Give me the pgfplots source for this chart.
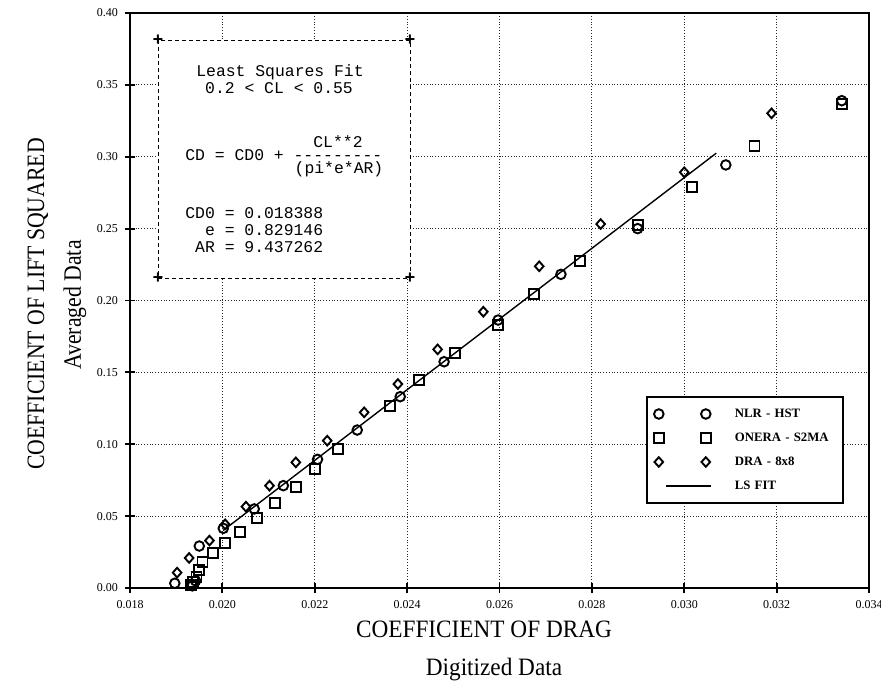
\documentclass[border=0pt]{standalone}
\usepackage{fontspec}
\setmainfont{Liberation Serif}
\setmonofont{Liberation Mono}
\usepackage{pgfplots}
\pgfplotsset{compat=1.18}

% legend images: each data set shows its symbol twice, the fit a short line
\pgfplotsset{
  twomarks/.style={legend image code/.code={\path[draw=none, fill=none] (-3pt,-3pt) rectangle (36pt,3pt);
    \draw[##1] plot coordinates {(0pt,0pt) (23.5pt,0pt)};}},
  fitline/.style={legend image code/.code={\path[draw=none, fill=none] (-3pt,-3pt) rectangle (36pt,3pt);
    \draw[##1] (3.5pt,0pt) -- (26pt,0pt);}},
}

% NLR - HST
\pgfplotstableread{
cd       cl2
0.01897  0.0033
0.01935  0.0015
0.01942  0.0050
0.01950  0.0292
0.02002  0.0415
0.02069  0.0550
0.02132  0.0712
0.02206  0.0895
0.02292  0.1099
0.02385  0.1331
0.02480  0.1574
0.02597  0.1864
0.02733  0.2182
0.02899  0.2500
0.03090  0.2943
0.03341  0.3390
}\nlr

% ONERA - S2MA
\pgfplotstableread{
cd       cl2
0.01933  0.0021
0.01937  0.0044
0.01944  0.0079
0.01950  0.0125
0.01957  0.0183
0.01979  0.0241
0.02006  0.0311
0.02038  0.0392
0.02074  0.0487
0.02114  0.0591
0.02159  0.0703
0.02201  0.0828
0.02250  0.0965
0.02363  0.1268
0.02425  0.1447
0.02504  0.1637
0.02597  0.1830
0.02675  0.2043
0.02774  0.2277
0.02899  0.2525
0.03016  0.2787
0.03152  0.3077
0.03341  0.3370
}\onera

% DRA - 8x8
\pgfplotstableread{
cd       cl2
0.01902  0.0107
0.01928  0.0209
0.01972  0.0330
0.02006  0.0443
0.02051  0.0566
0.02102  0.0712
0.02159  0.0874
0.02227  0.1025
0.02307  0.1222
0.02380  0.1419
0.02466  0.1660
0.02565  0.1922
0.02686  0.2238
0.02819  0.2532
0.03000  0.2892
0.03189  0.3302
}\dra

\begin{document}
\begin{tikzpicture}[x=1pt,y=1pt]
\useasboundingbox (-65,-49.5) rectangle (375.5,294);
\begin{axis}[
  at={(0,0)}, anchor=south west,
  scale only axis, width=369.5pt, height=287.5pt,
  xmin=0.018, xmax=0.034, ymin=0, ymax=0.40,
  xtick={0.018,0.020,0.022,0.024,0.026,0.028,0.030,0.032,0.034},
  ytick={0,0.05,0.10,0.15,0.20,0.25,0.30,0.35,0.40},
  scaled x ticks=false, scaled y ticks=false,
  xticklabel style={/pgf/number format/.cd, fixed, fixed zerofill, precision=3, assume math mode=true},
  yticklabel style={/pgf/number format/.cd, fixed, fixed zerofill, precision=2, assume math mode=true},
  ticklabel style={font=\fontsize{6}{7}\selectfont},
  grid=major,
  major grid style={densely dotted, black!85, line width=0.45pt},
  tick pos=left, tick align=center, major tick length=5pt,
  tick style={black, line width=0.9pt},
  axis line style={line width=1pt},
  legend style={at={(axis cs:0.029172,0.13357)}, anchor=north west,
    draw=black, fill=white, line width=0.8pt, font=\fontsize{6.4}{7}\selectfont\bfseries,
    nodes={inner sep=2pt, text height=4.8pt, text depth=1.4pt}, row sep=1.8pt,
    inner xsep=3pt, inner ysep=3.5pt,
    /tikz/column 2/.style={text width=49pt}},
  legend cell align=left,
  every axis plot/.append style={black},
]
\addplot[only marks, mark=o, mark size=2.4pt, mark options={line width=0.95pt}, twomarks]
  table[x=cd, y=cl2] {\nlr};
\addlegendentry{NLR - HST}
\addplot[only marks, mark=square, mark size=2.5pt, mark options={line width=0.95pt}, twomarks]
  table[x=cd, y=cl2] {\onera};
\addlegendentry{ONERA - S2MA}
\addplot[only marks, mark=diamond, mark size=2.4pt, mark options={line width=0.95pt, xscale=1.2}, twomarks]
  table[x=cd, y=cl2] {\dra};
\addlegendentry{DRA - 8x8}
% least squares line, 0.2 < CL < 0.55
\addplot[line width=0.7pt, mark=none, fitline]
  coordinates {(0.020015,0.04) (0.030693,0.3025)};
\addlegendentry{LS FIT}
\end{axis}

% fit summary box
\draw[line width=0.5pt, dash pattern=on 2pt off 1.5pt, fill=white] (14,274) rectangle (140,155);
\foreach \p in {(14,274),(140,274),(14,155),(140,155)}
  \node[font=\fontsize{9}{9}\selectfont\ttfamily\bfseries, inner sep=0pt] at \p {+};
\begin{scope}[every node/.style={font=\fontsize{8.2}{9}\selectfont\ttfamily, inner sep=0pt}]
\node at (75,258) {Least~Squares~Fit};
\node at (74.5,250) {0.2~<~CL~<~0.55};
\node at (104,223) {CL**2};
\node[anchor=west] at (27.5,216.5) {CD~=~CD0~+~---------};
\node at (104.5,209.5) {(pi*e*AR)};
\node[anchor=west] at (27.5,187.5) {CD0~=~0.018388};
\node[anchor=west] at (27.5,179) {~~e~=~0.829146};
\node[anchor=west] at (27.5,170.5) {~AR~=~9.437262};
\end{scope}

% axis titles
\node[font=\fontsize{12.5}{13}\selectfont] at (177,-20.5) {\scalebox{0.93}[1]{COEFFICIENT OF DRAG}};
\node[font=\fontsize{12.5}{13}\selectfont] at (182,-41) {\scalebox{0.93}[1]{Digitized Data}};
\node[font=\fontsize{12.5}{13}\selectfont, rotate=90] at (-46,142) {\scalebox{0.87}[1]{COEFFICIENT OF LIFT SQUARED}};
\node[font=\fontsize{12.5}{13}\selectfont, rotate=90] at (-27.5,141.5) {\scalebox{0.87}[1]{Averaged Data}};
\end{tikzpicture}
\end{document}
